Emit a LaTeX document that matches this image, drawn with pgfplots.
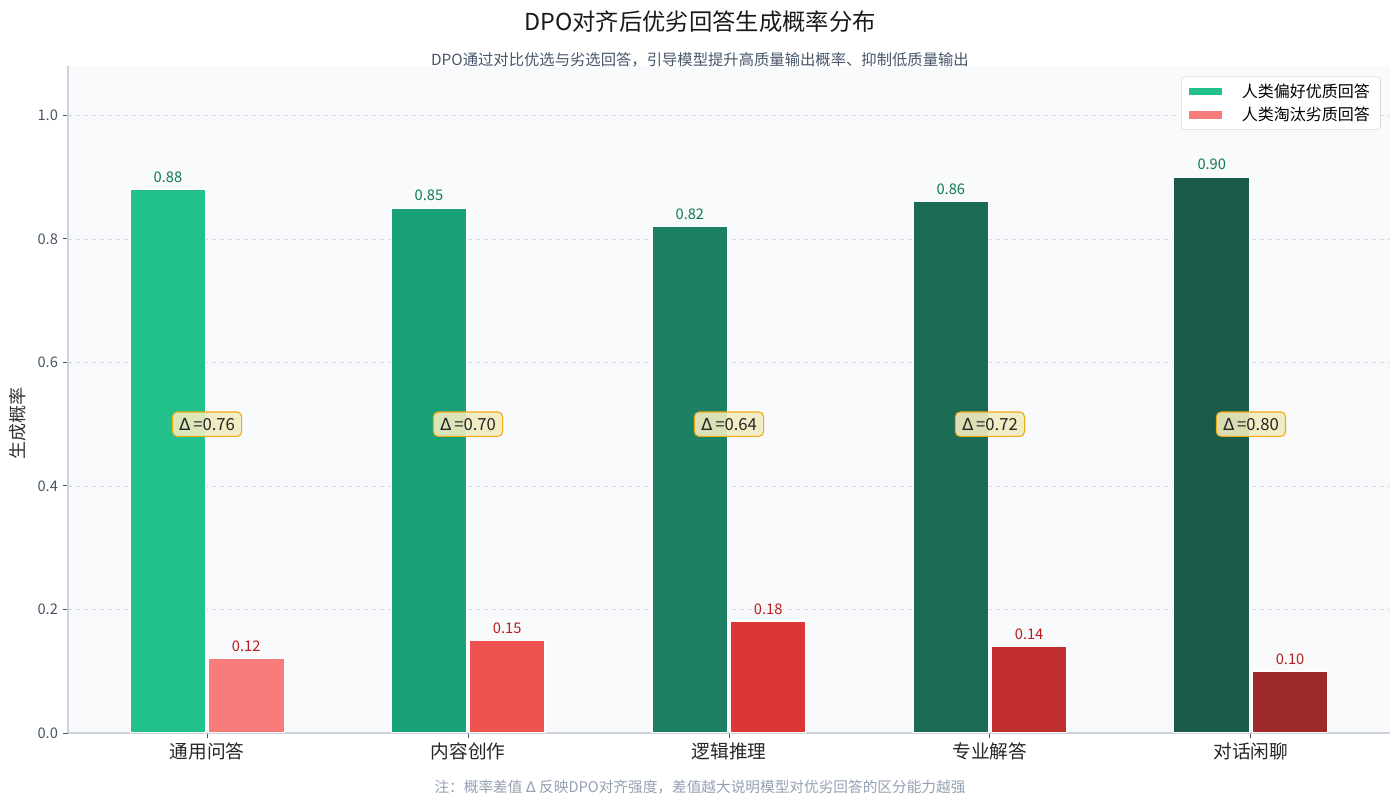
\documentclass[border=0pt]{standalone}
\usepackage{fontspec}
\setmainfont{Noto Sans CJK SC}
\usepackage{pgfplots}
\pgfplotsset{compat=1.18}

\definecolor{g1}{RGB}{34,192,139}
\definecolor{g2}{RGB}{24,160,119}
\definecolor{g3}{RGB}{27,128,100}
\definecolor{g4}{RGB}{27,107,84}
\definecolor{g5}{RGB}{25,90,72}
\definecolor{r1}{RGB}{248,123,123}
\definecolor{r2}{RGB}{239,83,80}
\definecolor{r3}{RGB}{220,54,54}
\definecolor{r4}{RGB}{192,45,47}
\definecolor{r5}{RGB}{158,42,44}
\definecolor{glab}{RGB}{16,120,82}
\definecolor{rlab}{RGB}{185,28,28}
\definecolor{tickc}{RGB}{71,85,105}
\definecolor{notec}{RGB}{148,160,178}
\definecolor{axc}{RGB}{205,210,218}
\definecolor{bgc}{RGB}{248,250,252}
\definecolor{gridc}{RGB}{214,219,226}
\definecolor{boxfill}{RGB}{240,236,190}
\definecolor{boxdraw}{RGB}{240,170,20}

\begin{document}
\begin{tikzpicture}
\useasboundingbox (-51pt,-54pt) rectangle (999pt,549.75pt);
\begin{axis}[
    at={(0,0)}, anchor=south west,
    scale only axis,
    width=991.5pt, height=500.25pt,
    ybar, bar width=0.29,
    xmin=-0.533, xmax=4.533,
    ymin=0, ymax=1.08,
    xtick={0,1,2,3,4},
    xticklabels={通用问答,内容创作,逻辑推理,专业解答,对话闲聊},
    ytick={0,0.2,0.4,0.6,0.8,1.0},
    yticklabel style={/pgf/number format/fixed,/pgf/number format/fixed zerofill,/pgf/number format/precision=1,/pgf/number format/assume math mode=true,font=\fontsize{11}{13}\selectfont,text=tickc},
    xticklabel style={font=\fontsize{14}{16}\selectfont,text=black!85},
    axis x line*=bottom, axis y line*=left,
    axis line style={axc,line width=0.9pt},
    tick style={tickc,line width=0.7pt},
    major tick length=4pt,
    tick align=outside,
    ymajorgrids, grid style={gridc,dashed,line width=0.5pt},
    axis background/.style={fill=bgc},
    every axis plot/.append style={draw=white,line width=0.8pt},
    nodes near coords,
    nodes near coords style={/pgf/number format/fixed,/pgf/number format/fixed zerofill,/pgf/number format/precision=2,/pgf/number format/assume math mode=true},
    every node near coord/.append style={font=\fontsize{11}{13}\selectfont,yshift=1.5pt},
    legend style={at={(0.993,0.984)},anchor=north east,draw=gridc,rounded corners=2pt,fill=white,
        font=\fontsize{12}{15}\selectfont,row sep=2pt,inner xsep=6pt,inner ysep=3pt},
    legend image code/.code={\draw[#1,draw=none,sharp corners] (0cm,-0.1cm) rectangle (0.85cm,0.1cm);
        \path (1.3cm,0cm);},
    legend cell align=left,
]
\addplot[fill=g1,bar shift=-0.15,every node near coord/.append style={text=glab}] coordinates {(0,0.88)};
\addlegendentry{人类偏好优质回答}
\addplot[fill=r1,bar shift=0.15,every node near coord/.append style={text=rlab}] coordinates {(0,0.12)};
\addlegendentry{人类淘汰劣质回答}
\addplot[fill=g2,bar shift=-0.15,forget plot,every node near coord/.append style={text=glab}] coordinates {(1,0.85)};
\addplot[fill=g3,bar shift=-0.15,forget plot,every node near coord/.append style={text=glab}] coordinates {(2,0.82)};
\addplot[fill=g4,bar shift=-0.15,forget plot,every node near coord/.append style={text=glab}] coordinates {(3,0.86)};
\addplot[fill=g5,bar shift=-0.15,forget plot,every node near coord/.append style={text=glab}] coordinates {(4,0.90)};
\addplot[fill=r2,bar shift=0.15,forget plot,every node near coord/.append style={text=rlab}] coordinates {(1,0.15)};
\addplot[fill=r3,bar shift=0.15,forget plot,every node near coord/.append style={text=rlab}] coordinates {(2,0.18)};
\addplot[fill=r4,bar shift=0.15,forget plot,every node near coord/.append style={text=rlab}] coordinates {(3,0.14)};
\addplot[fill=r5,bar shift=0.15,forget plot,every node near coord/.append style={text=rlab}] coordinates {(4,0.10)};
% delta boxes
\addplot[forget plot,draw=none,fill=none,bar shift=0,bar width=0,
    point meta=explicit symbolic,
    nodes near coords={\fontspec{DejaVu Sans}Δ\normalfont\,=\pgfplotspointmeta},
    every node near coord/.style={anchor=center,yshift=0pt,font=\fontsize{12.5}{14}\selectfont,text=black!85,
        fill=boxfill,fill opacity=0.9,text opacity=1,draw=boxdraw,line width=0.8pt,rounded corners=3.5pt,inner xsep=5pt,inner ysep=4.5pt}]
    table[meta=d] {
x y d
0 0.5 0.76
1 0.5 0.70
2 0.5 0.64
3 0.5 0.72
4 0.5 0.80
};
\end{axis}
\node[font=\fontsize{17.5}{20}\selectfont,text=black!90] at (474pt,533.25pt) {DPO对齐后优劣回答生成概率分布};
\node[font=\fontsize{11.5}{13}\selectfont,text=tickc] at (474pt,504.75pt) {DPO通过对比优选与劣选回答，引导模型提升高质量输出概率、抑制低质量输出};
\node[font=\fontsize{11}{12}\selectfont,text=notec] at (474pt,-40.5pt) {注：概率差值 {\fontspec{DejaVu Sans}Δ} 反映DPO对齐强度，差值越大说明模型对优劣回答的区分能力越强};
\node[rotate=90,font=\fontsize{13.5}{15}\selectfont,text=black!80] at (-37.5pt,231.75pt) {生成概率};
\end{tikzpicture}
\end{document}
